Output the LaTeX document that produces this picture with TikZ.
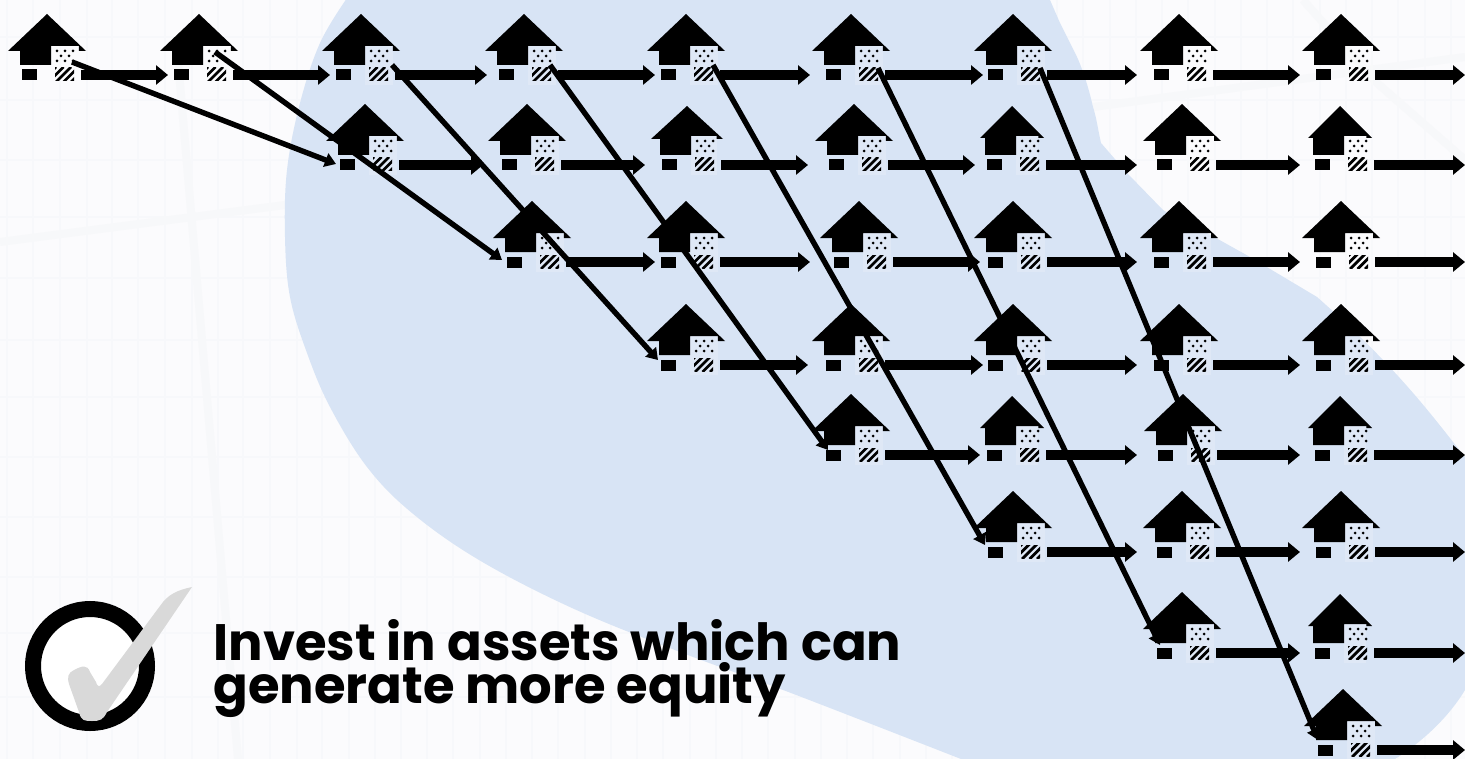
\documentclass[tikz,border=0pt]{standalone}
\usepackage{fontspec}
\setmainfont{Poppins}
\usetikzlibrary{arrows.meta}
\definecolor{pagebg}{HTML}{FBFBFD}
\definecolor{gridc}{HTML}{F7F8FB}
\definecolor{bandc}{HTML}{F7F8FA}
\definecolor{blobc}{HTML}{D8E4F5}
\definecolor{checkc}{HTML}{D9D9D9}
\tikzset{
  hub/.style={coordinate},
  flow/.style={line width=4.6pt,-{Triangle[length=6pt,width=9.5pt]},draw=black},
  diag/.style={line width=2.7pt,-{Triangle[length=5.5pt,width=7pt]},draw=black},
  gridline/.style={draw=gridc,line width=.8pt},
  band/.style={draw=bandc,line width=4pt},
  hatchline/.style={draw=black,line width=1.4pt},
  caption/.style={anchor=base west,inner sep=0pt,font=\fontsize{25.6pt}{26pt}\selectfont\bfseries},
}
\newcommand{\drawhouse}[6]{%
  \node[hub] (#1) at (#2,#3) {};
  \begin{scope}[shift={(#2,#3)}]
    \pgfmathsetmacro{\bxr}{#4*0.82}
    \fill[white,opacity=.18] (4,-29) rectangle (\bxr,10);
    \fill[black] (0,-#6) -- (#4,-#5) -- (\bxr,-#5) -- (\bxr,-29) -- (4,-29) -- (4,-10) -- (-27,-10) -- (-27,-#5) -- (-#4,-#5) -- cycle;
    \fill[black] (-25,-5.5) rectangle (-10,5.5);
    \foreach \dx/\dy in {10/-24,18/-24,26/-24,14/-19,22/-19,10/-14,18/-14,26/-14}
      \fill[black] (\dx,\dy) circle (.75pt);
    \begin{scope}
      \clip (8,-7) rectangle (27,6);
      \foreach \k in {-6,1.5,9,16.5,24}
        \draw[hatchline] (\k,7) -- (\k+15,-8);
    \end{scope}
  \end{scope}}
\newcommand{\bighouse}[3]{\drawhouse{#1}{#2}{#3}{39}{24}{61}}
\newcommand{\midhouse}[3]{\drawhouse{#1}{#2}{#3}{36}{26}{59}}
\newcommand{\smallhouse}[3]{\drawhouse{#1}{#2}{#3}{32}{27}{59}}
\newcommand{\flowto}[3]{\draw[flow] ([shift={(34,0)}]#1.center) -- ([shift={(#3,0)}]#2.center);}
\begin{document}
\begin{tikzpicture}[x=0.5pt,y=-0.5pt]
\useasboundingbox (0,0) rectangle (1465,759);
\clip (0,0) rectangle (1465,759);
\fill[pagebg] (0,0) rectangle (1465,759);
% faint background grid
\foreach \x in {7,33,60,87,112,138,165,192,218,243,270,297,322,349,375,401,427,453,480,506,532,558,585,611,637,663,690,716,742,768,795,821,847,873,900,926,952,978,1005,1031,1057,1083,1110,1136,1162,1188,1215,1241,1267,1293,1320,1346,1372,1398,1425,1451}
  \draw[gridline] (\x,0) -- (\x,759);
\foreach \y in {37,100,160,217,278,340,397,457,517,577,633,697}
  \draw[gridline] (0,\y) -- (1465,\y);
\draw[band] (0,242) -- (285,205);
\draw[band] (178,60) -- (238,759);
\draw[band] (1303,0) -- (1377,83) -- (1465,160);
\draw[band] (1093,107) -- (1465,57);
% blue blob
\fill[blobc] plot[smooth,tension=.6] coordinates {(347,-2) (320,43) (300,103) (287,170) (285,237) (290,297) (307,353) (330,407) (367,467) (412,513) (479,560) (572,608) (680,652) (791,693) (961,759)}
  -- (1395,759)
  .. controls (1425,740) and (1450,715) .. (1465,690)
  -- (1465,457)
  .. controls (1435,420) and (1400,370) .. (1317,297)
  -- (1250,257) -- (1207,233)
  .. controls (1190,224) and (1175,218) .. (1163,210)
  -- (1127,173) -- (1101,143)
  .. controls (1097,125) and (1097,120) .. (1093,107)
  .. controls (1088,85) and (1082,68) .. (1077,57)
  -- (1060,23) -- (1050,0)
  -- cycle;
% houses
\bighouse{a1}{47}{75}\bighouse{a2}{199}{75}\bighouse{a3}{361}{75}\bighouse{a4}{524}{75}\bighouse{a5}{686}{75}\bighouse{a6}{851}{75}\bighouse{a7}{1013}{75}\bighouse{a8}{1179}{75}\bighouse{a9}{1341}{75}
\bighouse{b1}{365}{165}\bighouse{b2}{527}{165}\midhouse{b3}{687}{165}\bighouse{b4}{854}{165}\smallhouse{b5}{1012}{165}\bighouse{b6}{1182}{165}\smallhouse{b7}{1340}{165}
\bighouse{c1}{532}{262}\bighouse{c2}{686}{262}\bighouse{c3}{859}{262}\bighouse{c4}{1013}{262}\bighouse{c5}{1179}{262}\bighouse{c6}{1341}{262}
\bighouse{d1}{686}{365}\bighouse{d2}{851}{365}\bighouse{d3}{1013}{365}\bighouse{d4}{1179}{365}\bighouse{d5}{1341}{365}
\bighouse{e1}{851}{455}\smallhouse{e2}{1012}{455}\bighouse{e3}{1183}{455}\smallhouse{e4}{1340}{455}
\bighouse{f1}{1013}{552}\bighouse{f2}{1182}{552}\bighouse{f3}{1341}{552}
\bighouse{g1}{1182}{653}\smallhouse{g2}{1340}{653}
\bighouse{k1}{1343}{750}
% free ends at the right edge
\foreach \n/\yy in {ea/75,eb/165,ec/262,ed/365,ee/455,ef/552,eg/653,ek/750}
  \coordinate (\n) at (1465,\yy);
% horizontal arrows
\flowto{a1}{a2}{-31}\flowto{a2}{a3}{-31}\flowto{a3}{a4}{-37}\flowto{a4}{a5}{-31}\flowto{a5}{a6}{-41}\flowto{a6}{a7}{-30}\flowto{a7}{a8}{-42}\flowto{a8}{a9}{-41}\flowto{a9}{ea}{0}
\flowto{b1}{b2}{-44}\flowto{b2}{b3}{-42}\flowto{b3}{b4}{-46}\flowto{b4}{b5}{-37}\flowto{b5}{b6}{-45}\flowto{b6}{b7}{-40}\flowto{b7}{eb}{0}
\flowto{c1}{c2}{-31}\flowto{c2}{c3}{-49}\flowto{c3}{c4}{-33}\flowto{c4}{c5}{-42}\flowto{c5}{c6}{-41}\flowto{c6}{ec}{0}
\flowto{d1}{d2}{-43}\flowto{d2}{d3}{-30}\flowto{d3}{d4}{-42}\flowto{d4}{d5}{-41}\flowto{d5}{ed}{0}
\flowto{e1}{e2}{-32}\flowto{e2}{e3}{-46}\flowto{e3}{e4}{-40}\flowto{e4}{ee}{0}
\flowto{f1}{f2}{-45}\flowto{f2}{f3}{-41}\flowto{f3}{ef}{0}
\flowto{g1}{g2}{-40}\flowto{g2}{eg}{0}
\flowto{k1}{ek}{0}
% diagonal arrows
\draw[diag] ([shift={(25,-13)}]a1.center) -- ([shift={(-29,-1)}]b1.center);
\draw[diag] ([shift={(16,-23)}]a2.center) -- ([shift={(-30,-2)}]c1.center);
\draw[diag] ([shift={(31,-10)}]a3.center) -- ([shift={(-28,-5)}]d1.center);
\draw[diag] ([shift={(26,-10)}]a4.center) -- ([shift={(-23,-5)}]e1.center);
\draw[diag] ([shift={(27,-10)}]a5.center) -- ([shift={(-28,-7)}]f1.center);
\draw[diag] ([shift={(27,-7)}]a6.center) -- ([shift={(-22,-8)}]g1.center);
\draw[diag] ([shift={(27,-7)}]a7.center) -- ([shift={(-25,-10)}]k1.center);
% badge
\node[hub] (badge) at (90,666) {};
\fill[white] (badge) circle (28pt);
\draw[black,line width=8pt] (badge) circle (28.5pt);
\fill[checkc] (192,587)
  .. controls (178,590) and (168,594) .. (160,606)
  -- (102,684) .. controls (99,688) and (97,686) .. (96,682)
  -- (90,672) .. controls (87,664) and (82,666) .. (74,670)
  .. controls (68,673) and (67,677) .. (69,684)
  -- (79,712) .. controls (81,721) and (85,721) .. (92,721)
  .. controls (100,721) and (103,720) .. (107,712)
  -- cycle;
% caption
\node[caption] (line1) at (213,660) {Invest in assets which can};
\node[caption] (line2) at (213,703) {generate more equity};
\end{tikzpicture}
\end{document}
